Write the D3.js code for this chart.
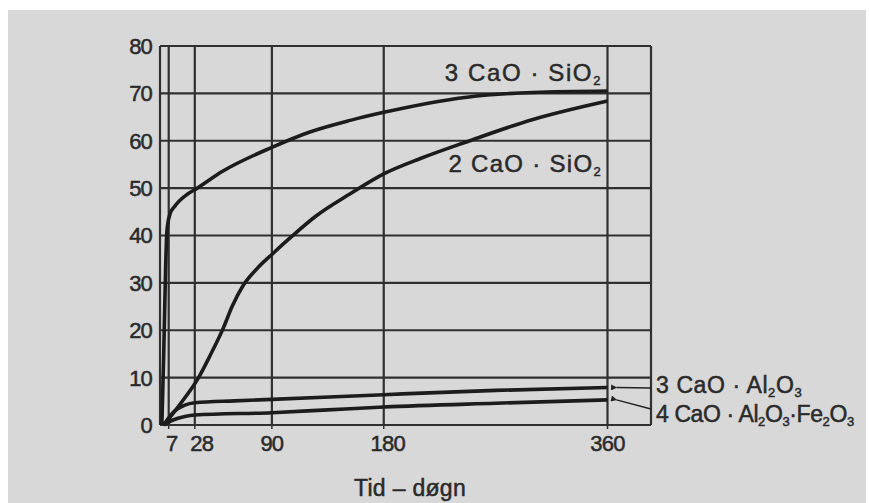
<!DOCTYPE html>
<html>
<head>
<meta charset="utf-8">
<script src="https://cdn.jsdelivr.net/npm/d3@7"></script>
<style>
    body { margin: 0; background: #ffffff; }
    text { font-family: "Liberation Sans", Arial, sans-serif; fill: #2a2a2a; stroke: #2a2a2a; stroke-width: 0.5px; }
</style>
</head>
<body>
<div id="chart"></div>
<script>
// DATA (days, strength)
const xTicks = [7, 28, 90, 180, 360];
const yTicks = [0, 10, 20, 30, 40, 50, 60, 70, 80];

const c3s = [[1.5,0],[3,15],[4.5,33],[5.6,41],[8,44.5],[12,46.2],[22,48.7],[30,50],[50,53.5],[90,58.6],[120,61.8],[153,64.3],[180,66],[247,69.2],[300,70.2],[360,70.5]];
const c2s = [[3,0],[15,4],[31,10],[40,14.5],[51,20.5],[58,25],[67,29.5],[78,33],[90,36],[106,39.8],[125,44],[153,48.8],[180,53],[210,56.3],[247,59.8],[300,64.5],[360,68.4]];
const c3a = [[3,0],[10,2.5],[20,4.2],[28,4.7],[60,5.1],[90,5.4],[180,6.4],[270,7.3],[360,7.9]];
const c4af = [[3,0],[10,1],[20,1.8],[28,2.1],[90,2.6],[135,3.2],[180,3.8],[270,4.6],[360,5.3]];

const labelC3S = [["3 CaO · SiO", false], ["2", true]];
const labelC2S = [["2 CaO · SiO", false], ["2", true]];
const labelC3A = [["3 CaO · Al", false], ["2", true], ["O", false], ["3", true]];
const labelC4AF = [["4 CaO · Al", false], ["2", true], ["O", false], ["3", true], ["·Fe", false], ["2", true], ["O", false], ["3", true]];

const width = 869;
const height = 503;
const xMax = 395;

// Canvas
const viz = d3.select("#chart")
    .append("svg")
    .attr("width", width)
    .attr("height", height);

viz.append("rect")
    .attr("x", 8)
    .attr("y", 10)
    .attr("width", 858)
    .attr("height", height - 10)
    .attr("fill", "#d8d8d8");

// Scales
const xScale = d3.scaleLinear()
    .domain([0, xMax])
    .range([160, 651]);

const yScale = d3.scaleLinear()
    .domain([0, 80])
    .range([425, 46]);

const gridColor = "#303030";

// Grid
viz.selectAll(".hgrid")
    .data(yTicks)
    .enter()
    .append("line")
    .attr("x1", xScale(0))
    .attr("x2", xScale(xMax))
    .attr("y1", function(d) { return yScale(d); })
    .attr("y2", function(d) { return yScale(d); })
    .attr("stroke", gridColor)
    .attr("stroke-width", 2.2);

viz.selectAll(".vgrid")
    .data([0].concat(xTicks).concat([xMax]))
    .enter()
    .append("line")
    .attr("x1", function(d) { return xScale(d); })
    .attr("x2", function(d) { return xScale(d); })
    .attr("y1", yScale(0))
    .attr("y2", yScale(80))
    .attr("stroke", gridColor)
    .attr("stroke-width", 2.2);

// small ticks under the axis
viz.selectAll(".xtick")
    .data(xTicks)
    .enter()
    .append("line")
    .attr("x1", function(d) { return xScale(d); })
    .attr("x2", function(d) { return xScale(d); })
    .attr("y1", yScale(0))
    .attr("y2", yScale(0) + 4)
    .attr("stroke", gridColor)
    .attr("stroke-width", 1.5);

// Tick labels
viz.selectAll(".ylabel")
    .data(yTicks)
    .enter()
    .append("text")
    .attr("x", 152)
    .attr("y", function(d) { return yScale(d); })
    .attr("dy", "0.36em")
    .attr("text-anchor", "end")
    .attr("font-size", 22)
    .attr("letter-spacing", -0.8)
    .text(function(d) { return d; });

viz.selectAll(".xlabel")
    .data(xTicks)
    .enter()
    .append("text")
    .attr("x", function(d) { return xScale(d) + (d == 28 ? 7 : (d == 7 ? 3 : (d == 180 ? 4 : 0))); })
    .attr("y", 443)
    .attr("dy", "0.36em")
    .attr("text-anchor", "middle")
    .attr("font-size", 22)
    .attr("letter-spacing", -0.8)
    .text(function(d) { return d; });

viz.append("text")
    .attr("x", 410)
    .attr("y", 488)
    .attr("dy", "0.36em")
    .attr("text-anchor", "middle")
    .attr("font-size", 23)
    .attr("letter-spacing", 0.3)
    .text("Tid – døgn");

// Curves
const line = d3.line()
    .x(function(d) { return xScale(d[0]); })
    .y(function(d) { return yScale(d[1]); })
    .curve(d3.curveMonotoneX);

viz.selectAll(".curve")
    .data([c3s, c2s, c3a, c4af])
    .enter()
    .append("path")
    .attr("d", line)
    .attr("fill", "none")
    .attr("stroke", "#1c1c1c")
    .attr("stroke-width", 3.6)
    .attr("stroke-linejoin", "round");

// Labels with subscripts
function addLabel(parts, x, y, anchor, spacing, size) {
    const t = viz.append("text")
        .attr("x", x)
        .attr("y", y)
        .attr("dy", "0.36em")
        .attr("text-anchor", anchor)
        .attr("font-size", size)
        .attr("letter-spacing", spacing);
    parts.forEach(function(p, i) {
        const prevSub = i > 0 && parts[i - 1][1];
        const s = t.append("tspan").text(p[0]);
        if (p[1]) {
            s.attr("font-size", 13).attr("dy", 4);
        } else if (prevSub) {
            s.attr("dy", -4);
        }
    });
}

addLabel(labelC3S, 602, 72, "end", 1.6, 24);
addLabel(labelC2S, 602, 163, "end", 1.3, 24);
addLabel(labelC3A, 656, 385, "start", 0.6, 23);
addLabel(labelC4AF, 656, 414, "start", -0.4, 23);

// Arrows from the labels to the curve ends
viz.append("defs").append("marker")
    .attr("id", "arrow")
    .attr("viewBox", "0 0 10 10")
    .attr("refX", 1)
    .attr("refY", 5)
    .attr("markerWidth", 5)
    .attr("markerHeight", 4)
    .attr("orient", "auto")
    .append("path")
    .attr("d", "M10,0 L0,5 L10,10 z")
    .attr("fill", "#222");

const arrows = [
    {from: 388, to: c3a[c3a.length - 1][1]},
    {from: 409, to: c4af[c4af.length - 1][1]}
];

viz.selectAll(".arrow")
    .data(arrows)
    .enter()
    .append("line")
    .attr("x1", xScale(xMax))
    .attr("y1", function(d) { return d.from; })
    .attr("x2", xScale(360) + 9)
    .attr("y2", function(d) { return yScale(d.to); })
    .attr("stroke", "#222")
    .attr("stroke-width", 1.5)
    .attr("marker-end", "url(#arrow)");
</script>
</body>
</html>
